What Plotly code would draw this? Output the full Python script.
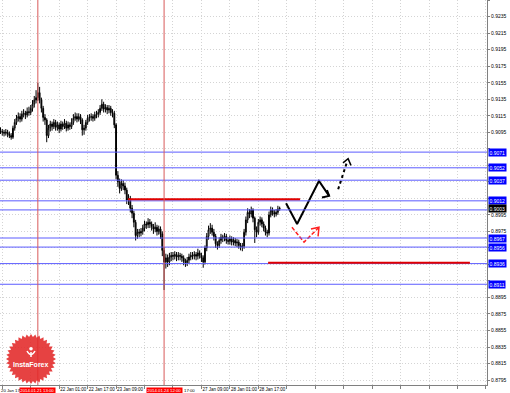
import math
import plotly.graph_objects as go

# ---------------- data (H1 bars, index 0 = 20 Jan 16:00) ----------------
closes = [
    0.9096, 0.9095, 0.9094, 0.9095, 0.9093, 0.9091, 0.9089, 0.9100, 0.9107, 0.9112,
    0.9114, 0.9111, 0.9117, 0.9118, 0.9116, 0.9120, 0.9119, 0.9124, 0.9129, 0.9134,
    0.9137, 0.9143, 0.9134, 0.9124, 0.9113, 0.9110, 0.9091, 0.9100, 0.9105, 0.9102,
    0.9107, 0.9101, 0.9104, 0.9099, 0.9105, 0.9102, 0.9106, 0.9100, 0.9104, 0.9102,
    0.9107, 0.9112, 0.9114, 0.9111, 0.9114, 0.9110, 0.9098, 0.9100, 0.9107, 0.9112,
    0.9113, 0.9114, 0.9112, 0.9116, 0.9117, 0.9119, 0.9124, 0.9129, 0.9123, 0.9125,
    0.9122, 0.9124, 0.9119, 0.9118, 0.9104, 0.9043, 0.9035, 0.9027, 0.9033, 0.9030,
    0.9025, 0.9013, 0.9015, 0.9003, 0.8997, 0.8986, 0.8970, 0.8974, 0.8973, 0.8975,
    0.8979, 0.8984, 0.8983, 0.8986, 0.8984, 0.8981, 0.8978, 0.8980, 0.8975, 0.8978,
    0.8972, 0.8952, 0.8938, 0.8943, 0.8938, 0.8944, 0.8946, 0.8945, 0.8947, 0.8944,
    0.8946, 0.8945, 0.8943, 0.8939, 0.8937, 0.8940, 0.8944, 0.8946, 0.8945, 0.8947,
    0.8945, 0.8949, 0.8946, 0.8943, 0.8938, 0.8955, 0.8969, 0.8977, 0.8979, 0.8974,
    0.8969, 0.8960, 0.8958, 0.8964, 0.8968, 0.8967, 0.8969, 0.8964, 0.8963, 0.8966,
    0.8962, 0.8964, 0.8961, 0.8962, 0.8958, 0.8956, 0.8957, 0.8974, 0.8989, 0.8998,
    0.8996, 0.9001, 0.8991, 0.8977, 0.8974, 0.8986, 0.8989, 0.8984, 0.8979, 0.8974,
    0.8973, 0.8995, 0.9001, 0.8998, 0.8996, 0.8998, 0.9002, 0.9003]

highs = [
    0.9101, 0.9099, 0.9098, 0.9099, 0.9098, 0.9096, 0.9094, 0.9103, 0.9111, 0.9116,
    0.9119, 0.9118, 0.9121, 0.9123, 0.9121, 0.9125, 0.9126, 0.9128, 0.9134, 0.9139,
    0.9146, 0.9155, 0.9150, 0.9137, 0.9127, 0.9117, 0.9112, 0.9104, 0.9109, 0.9108,
    0.9111, 0.9110, 0.9108, 0.9107, 0.9109, 0.9108, 0.9111, 0.9109, 0.9108, 0.9107,
    0.9112, 0.9117, 0.9119, 0.9118, 0.9118, 0.9117, 0.9112, 0.9104, 0.9110, 0.9116,
    0.9117, 0.9118, 0.9117, 0.9120, 0.9121, 0.9123, 0.9128, 0.9135, 0.9132, 0.9129,
    0.9128, 0.9128, 0.9127, 0.9123, 0.9121, 0.9106, 0.9048, 0.9039, 0.9038, 0.9037,
    0.9034, 0.9028, 0.9020, 0.9018, 0.9007, 0.9000, 0.8989, 0.8978, 0.8978, 0.8979,
    0.8983, 0.8988, 0.8987, 0.8991, 0.8990, 0.8987, 0.8984, 0.8986, 0.8983, 0.8982,
    0.8981, 0.8975, 0.8956, 0.8948, 0.8947, 0.8949, 0.8950, 0.8950, 0.8951, 0.8950,
    0.8950, 0.8949, 0.8948, 0.8946, 0.8942, 0.8944, 0.8948, 0.8950, 0.8950, 0.8951,
    0.8950, 0.8954, 0.8952, 0.8949, 0.8946, 0.8958, 0.8973, 0.8982, 0.8985, 0.8983,
    0.8978, 0.8972, 0.8963, 0.8968, 0.8972, 0.8971, 0.8973, 0.8972, 0.8968, 0.8970,
    0.8969, 0.8968, 0.8967, 0.8966, 0.8965, 0.8961, 0.8961, 0.8978, 0.8993, 0.9003,
    0.9002, 0.9005, 0.9003, 0.8993, 0.8981, 0.8990, 0.8993, 0.8992, 0.8987, 0.8982,
    0.8977, 0.8999, 0.9005, 0.9004, 0.9001, 0.9002, 0.9006, 0.9005]

lows = [
    0.9093, 0.9091, 0.9090, 0.9091, 0.9089, 0.9088, 0.9086, 0.9087, 0.9097, 0.9104,
    0.9108, 0.9107, 0.9108, 0.9113, 0.9111, 0.9113, 0.9115, 0.9116, 0.9120, 0.9125,
    0.9130, 0.9133, 0.9130, 0.9119, 0.9108, 0.9104, 0.9083, 0.9088, 0.9096, 0.9097,
    0.9099, 0.9097, 0.9097, 0.9094, 0.9096, 0.9098, 0.9099, 0.9096, 0.9097, 0.9098,
    0.9099, 0.9104, 0.9109, 0.9107, 0.9108, 0.9105, 0.9091, 0.9092, 0.9097, 0.9104,
    0.9108, 0.9109, 0.9108, 0.9109, 0.9112, 0.9113, 0.9116, 0.9121, 0.9119, 0.9119,
    0.9117, 0.9118, 0.9115, 0.9113, 0.9100, 0.9038, 0.9029, 0.9021, 0.9024, 0.9025,
    0.9020, 0.9008, 0.9007, 0.8998, 0.8991, 0.8980, 0.8964, 0.8966, 0.8968, 0.8969,
    0.8971, 0.8975, 0.8978, 0.8979, 0.8979, 0.8976, 0.8972, 0.8974, 0.8970, 0.8971,
    0.8966, 0.8945, 0.8904, 0.8930, 0.8932, 0.8934, 0.8939, 0.8940, 0.8941, 0.8939,
    0.8940, 0.8940, 0.8938, 0.8934, 0.8932, 0.8933, 0.8936, 0.8940, 0.8941, 0.8941,
    0.8940, 0.8941, 0.8942, 0.8938, 0.8931, 0.8935, 0.8951, 0.8965, 0.8972, 0.8970,
    0.8964, 0.8955, 0.8953, 0.8955, 0.8960, 0.8962, 0.8963, 0.8960, 0.8959, 0.8959,
    0.8958, 0.8958, 0.8957, 0.8956, 0.8954, 0.8952, 0.8951, 0.8954, 0.8970, 0.8985,
    0.8991, 0.8992, 0.8986, 0.8961, 0.8968, 0.8971, 0.8982, 0.8980, 0.8975, 0.8970,
    0.8968, 0.8970, 0.8992, 0.8994, 0.8992, 0.8993, 0.8995, 0.9000]

first_open = 0.9097
opens = [first_open] + closes[:-1]
bar_index = list(range(len(closes)))

# visible parts of the time labels (parts hidden behind the red date boxes omitted)
x_tick_index = [1, 17, 33, 49, 65, 81, 97, 113, 129, 145]
x_tick_labels = ["", "", "22 Jan 01:00", "22 Jan 17:00",
                 "23 Jan 09:00", "", "", "27 Jan 09:00",
                 "28 Jan 01:00", "28 Jan 17:00"]
x_grid_future = [161, 177, 193, 209, 225, 241, 257, 273]
partial_labels_index = [-0.28, 102.7]
partial_labels_text = ["20 Jan 17", "17:00"]

y_ticks = [0.8795, 0.8815, 0.8835, 0.8855, 0.8875, 0.8895, 0.8915, 0.8935,
           0.8955, 0.8975, 0.8995, 0.9015, 0.9035, 0.9055, 0.9075, 0.9095,
           0.9115, 0.9135, 0.9155, 0.9175, 0.9195, 0.9215, 0.9235, 0.9255]

blue_levels = [0.9071, 0.9052, 0.9037, 0.9012, 0.9001, 0.8967, 0.8956, 0.8936, 0.8911]
blue_labelled = [0.9071, 0.9052, 0.9037, 0.9012, 0.8967, 0.8956, 0.8936, 0.8911]
bid_price = 0.9003

red_level_1 = 0.9014
red_span_1 = [71.7, 168.5]
red_level_2 = 0.8937
red_span_2 = [150.5, 264.0]

vline_index = [21, 92]
vline_labels = ["2014.01.21 13:00", "2014.01.24 12:00"]

# hand-drawn forecast arrows (bar index, price)
black_path_i = [160.6, 166.8, 179.1, 184.8]
black_path_p = [0.9009, 0.8984, 0.9036, 0.9018]
black_head_i = [183.6, 184.8, 180.8]
black_head_p = [0.9025, 0.9018, 0.9016]
black_dash_i = [189.9, 195.0]
black_dash_p = [0.9026, 0.9060]
black_dhead_i = [192.6, 195.5, 197.1]
black_dhead_p = [0.9058, 0.9063, 0.9055]
red_dash_i = [163.9, 170.7, 179.1]
red_dash_p = [0.8980, 0.8962, 0.8980]
red_head_i = [174.6, 179.1, 178.6]
red_head_p = [0.8978, 0.8980, 0.8969]

# ---------------- figure ----------------
W, H = 510, 393
ML, MR, MT, MB = 0, 23, 0, 8
PW, PH = W - ML - MR, H - MT - MB
X_RANGE = [-0.28, 273.6]
Y_RANGE = [0.87890, 0.92552]
FONT = "Liberation Sans"

fig = go.Figure()

fig.add_trace(go.Candlestick(
    x=bar_index, open=opens, high=highs, low=lows, close=closes,
    increasing=dict(line=dict(color="#000000", width=1), fillcolor="#ffffff"),
    decreasing=dict(line=dict(color="#000000", width=1), fillcolor="#000000"),
    whiskerwidth=0, showlegend=False, hoverinfo="skip"))

def add_line(xs, ys, color, width, dash="solid"):
    fig.add_trace(go.Scatter(x=xs, y=ys, mode="lines", showlegend=False, hoverinfo="skip",
                             line=dict(color=color, width=width, dash=dash)))

add_line(black_path_i, black_path_p, "#000000", 2)
add_line(black_head_i, black_head_p, "#000000", 2)
add_line(black_dash_i, black_dash_p, "#000000", 2, "3px,3px")
add_line(black_dhead_i, black_dhead_p, "#000000", 1.5)
add_line(red_dash_i, red_dash_p, "#ff2020", 1.5, "4px,2px")
add_line(red_head_i, red_head_p, "#ff2020", 1.5)

shapes = []
for lv in blue_levels:
    shapes.append(dict(type="line", xref="paper", x0=0, x1=1, yref="y", y0=lv, y1=lv,
                       line=dict(color="#5c5cff", width=1), layer="above"))
shapes.append(dict(type="line", xref="x", x0=red_span_1[0], x1=red_span_1[1], yref="y",
                   y0=red_level_1, y1=red_level_1, line=dict(color="#e00000", width=2)))
shapes.append(dict(type="line", xref="x", x0=red_span_2[0], x1=red_span_2[1], yref="y",
                   y0=red_level_2, y1=red_level_2, line=dict(color="#e00000", width=2)))
for vi in vline_index:
    shapes.append(dict(type="line", xref="x", x0=vi, x1=vi, yref="paper", y0=0, y1=1,
                       line=dict(color="#d85a5a", width=1)))

# logo (InstaForex gear) in pixel units -> paper
def pp(x, y):
    return x / PW, 1 - y / PH

cx, cy, r_out, r_in, teeth = 31, 359, 25, 22, 36
pts = []
for k in range(teeth * 2):
    ang = math.pi * k / teeth
    r = r_out if k % 2 == 0 else r_in
    pts.append(pp(cx + r * math.cos(ang), cy + r * math.sin(ang)))
path = "M " + " L ".join(f"{a:.5f},{b:.5f}" for a, b in pts) + " Z"
shapes.append(dict(type="path", xref="paper", yref="paper", path=path,
                   fillcolor="rgba(226,40,40,0.88)", line=dict(width=0), layer="above"))
# small white icon
hx0, hy0 = pp(cx - 1.8, cy - 12)
hx1, hy1 = pp(cx + 1.8, cy - 8.4)
shapes.append(dict(type="circle", xref="paper", yref="paper", x0=hx0, y0=hy1, x1=hx1, y1=hy0,
                   fillcolor="#ffffff", line=dict(width=0)))
a1 = pp(cx - 4, cy - 8)
a2 = pp(cx, cy - 1)
a3 = pp(cx + 4, cy - 8)
shapes.append(dict(type="path", xref="paper", yref="paper",
                   path=f"M {a1[0]:.5f},{a1[1]:.5f} Q {a2[0]:.5f},{a2[1]:.5f} {a3[0]:.5f},{a3[1]:.5f}",
                   line=dict(color="#ffffff", width=1.5)))
l1 = pp(cx, cy - 7)
l2 = pp(cx, cy - 2)
shapes.append(dict(type="line", xref="paper", yref="paper", x0=l1[0], y0=l1[1], x1=l2[0], y1=l2[1],
                   line=dict(color="#ffffff", width=1.5)))

annotations = []
tx, ty = pp(cx, cy + 5)
annotations.append(dict(xref="paper", yref="paper", x=tx, y=ty, text="<b>InstaForex</b>",
                        showarrow=False, font=dict(family=FONT, size=7, color="#ffffff"),
                        xanchor="center", yanchor="middle"))

for lv in blue_labelled:
    annotations.append(dict(xref="paper", x=1, xanchor="left", xshift=1, yref="y", y=lv,
                            yanchor="middle", text=f"{lv:.4f}", showarrow=False,
                            font=dict(family=FONT, size=5, color="#ffffff"),
                            bgcolor="#0000ff", borderpad=0.5))
annotations.append(dict(xref="paper", x=1, xanchor="left", xshift=1, yref="y", y=bid_price,
                        yanchor="middle", text=f"{bid_price:.4f}", showarrow=False,
                        font=dict(family=FONT, size=5, color="#ffffff"),
                        bgcolor="#000000", borderpad=0.5))
for vi, lab in zip(vline_index, vline_labels):
    annotations.append(dict(xref="x", x=vi, xanchor="center", yref="paper", y=0,
                            yanchor="top", yshift=-1.5, text=lab, showarrow=False,
                            font=dict(family=FONT, size=4.3, color="#ffffff"),
                            bgcolor="#ff0000", borderpad=0.3))
for xi, lab in zip(partial_labels_index, partial_labels_text):
    annotations.append(dict(xref="x", x=xi, xanchor="left", yref="paper", y=0,
                            yanchor="top", yshift=-1.5, text=lab, showarrow=False,
                            font=dict(family=FONT, size=4.3, color="#000000"), borderpad=0))

# tick labels hidden behind the level boxes are left blank
box_levels = blue_labelled + [bid_price]
y_tick_text = []
for v in y_ticks:
    hidden = any(abs(v - b) <= 0.00041 for b in box_levels)
    y_tick_text.append("" if hidden else f"{v:.4f}")

fig.update_layout(
    width=W, height=H, margin=dict(l=ML, r=MR, t=MT, b=MB, autoexpand=False),
    paper_bgcolor="#ffffff", plot_bgcolor="#ffffff",
    shapes=shapes, annotations=annotations, showlegend=False,
    font=dict(family=FONT, size=5, color="#000000"),
)
fig.update_xaxes(
    range=X_RANGE, rangeslider=dict(visible=False), automargin=False,
    tickmode="array", tickvals=x_tick_index + x_grid_future,
    ticktext=x_tick_labels + [""] * len(x_grid_future),
    ticklabelposition="outside right", tickangle=0,
    ticks="outside", ticklen=3, tickcolor="#808080",
    tickfont=dict(family=FONT, size=4.5, color="#000000"),
    showgrid=True, gridcolor="#d4d4d4", griddash="1px,2px", gridwidth=1,
    showline=True, linecolor="#808080", linewidth=1, zeroline=False, fixedrange=True)
fig.update_yaxes(
    range=Y_RANGE, side="right", automargin=False,
    tickmode="array", tickvals=y_ticks, ticktext=y_tick_text,
    ticks="outside", ticklen=2, tickcolor="#808080",
    tickfont=dict(family=FONT, size=5, color="#000000"),
    showgrid=True, gridcolor="#d4d4d4", griddash="1px,2px", gridwidth=1,
    showline=True, linecolor="#808080", linewidth=1, zeroline=False, fixedrange=True)

fig.write_html("out.html", config={"displayModeBar": False})
